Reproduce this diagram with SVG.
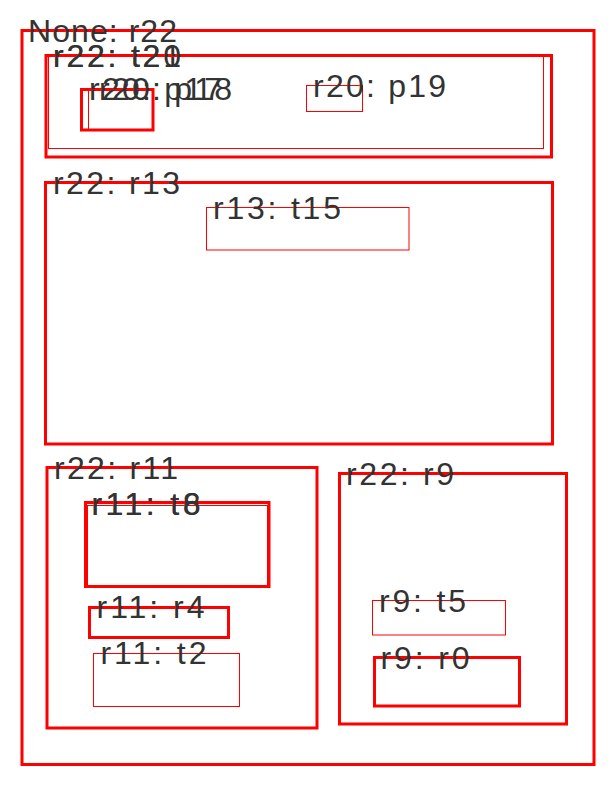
<svg xmlns="http://www.w3.org/2000/svg" width="614" height="792" viewBox="0 0 614 792">
<style>
  .thick { fill: none; stroke: #ff0000; stroke-width: 3; }
  .thin { fill: none; stroke: #ff0000; stroke-width: 1; }
  text { font-family: "Liberation Sans", "DejaVu Sans", sans-serif; font-size: 32px; fill: #333333; }
</style>
<rect width="614" height="792" fill="#ffffff"/>
<g id="r22">
  <rect class="thick" x="22" y="30.5" width="572" height="734"/>
  <text x="28" y="41.5" textLength="149" lengthAdjust="spacing">None: r22</text>
</g>
<g id="t21">
  <rect class="thick" x="46" y="55.5" width="505.5" height="101.5"/>
  <text x="53" y="66.5" textLength="128" lengthAdjust="spacing">r22: t21</text>
</g>
<g id="t20">
  <rect class="thin" x="48.5" y="56.5" width="495" height="92"/>
  <text x="53" y="66.5" textLength="128" lengthAdjust="spacing">r22: t20</text>
</g>
<g id="p17">
  <rect class="thick" x="81.5" y="89.5" width="71.5" height="40.5"/>
  <text x="89" y="100" textLength="133" lengthAdjust="spacing">r20: p17</text>
</g>
<g id="p18">
  <rect class="thin" x="88.5" y="89.5" width="64.5" height="40.5"/>
  <text x="99" y="100" textLength="133" lengthAdjust="spacing">r20: p18</text>
</g>
<g id="p19">
  <rect class="thin" x="306.5" y="85.5" width="56" height="26"/>
  <text x="313" y="97" textLength="133" lengthAdjust="spacing">r20: p19</text>
</g>
<g id="r13">
  <rect class="thick" x="45.5" y="182.5" width="507" height="261.5"/>
  <text x="53" y="193.5" textLength="127" lengthAdjust="spacing">r22: r13</text>
</g>
<g id="t15">
  <rect class="thin" x="206.5" y="207.5" width="202.5" height="42.5"/>
  <text x="213" y="218.5" textLength="128" lengthAdjust="spacing">r13: t15</text>
</g>
<g id="r11">
  <rect class="thick" x="47" y="467.5" width="270" height="260.5"/>
  <text x="54" y="478.5" textLength="124" lengthAdjust="spacing">r22: r11</text>
</g>
<g id="t6">
  <rect class="thick" x="85.5" y="502.5" width="183.5" height="84"/>
  <text x="91.5" y="515" textLength="109" lengthAdjust="spacing">r11: t6</text>
</g>
<g id="t8">
  <rect class="thin" x="87.5" y="505.5" width="180" height="80"/>
  <text x="91.5" y="515" textLength="109" lengthAdjust="spacing">r11: t8</text>
</g>
<g id="r4">
  <rect class="thick" x="89.5" y="607.5" width="139" height="30"/>
  <text x="96.5" y="617.5" textLength="108" lengthAdjust="spacing">r11: r4</text>
</g>
<g id="t2">
  <rect class="thin" x="93.5" y="653.5" width="146" height="53"/>
  <text x="100.5" y="664" textLength="106" lengthAdjust="spacing">r11: t2</text>
</g>
<g id="r9">
  <rect class="thick" x="339.5" y="473.5" width="227" height="250.5"/>
  <text x="346" y="484.5" textLength="108" lengthAdjust="spacing">r22: r9</text>
</g>
<g id="t5">
  <rect class="thin" x="372.5" y="600.5" width="133" height="34.5"/>
  <text x="379" y="611.5" textLength="87" lengthAdjust="spacing">r9: t5</text>
</g>
<g id="r0">
  <rect class="thick" x="374.5" y="657.5" width="145" height="48.5"/>
  <text x="380.5" y="668.5" textLength="89" lengthAdjust="spacing">r9: r0</text>
</g>
<g id="connectors"></g>
</svg>
